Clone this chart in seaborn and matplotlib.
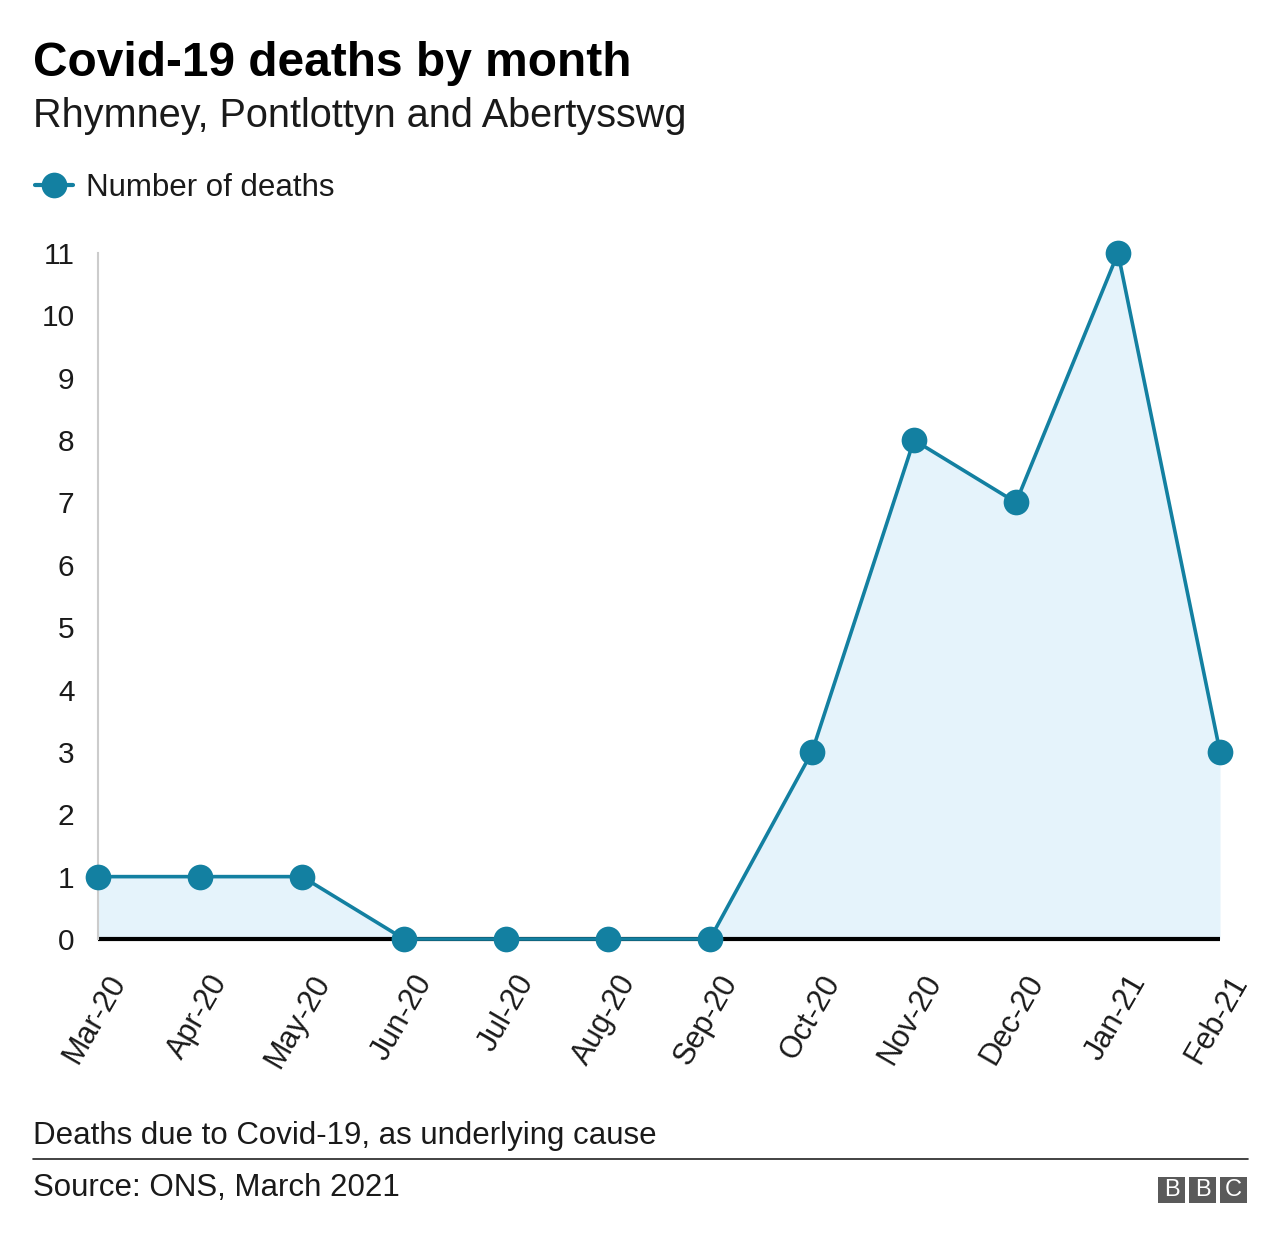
import matplotlib
matplotlib.use("Agg")
import matplotlib.pyplot as plt
import matplotlib.transforms as mtrans
import seaborn as sns
import pandas as pd
from matplotlib.lines import Line2D
from matplotlib.patches import Rectangle

months = ["Mar-20", "Apr-20", "May-20", "Jun-20", "Jul-20", "Aug-20",
          "Sep-20", "Oct-20", "Nov-20", "Dec-20", "Jan-21", "Feb-21"]
deaths = [1, 1, 1, 0, 0, 0, 0, 3, 8, 7, 11, 3]
yticks = list(range(0, 12))

sns.set_theme(style="white")
plt.rcParams['font.family'] = ['Liberation Sans', 'DejaVu Sans']

LINE = "#1380A1"
FILL = "#E5F3FB"

df = pd.DataFrame({"pos": range(len(months)), "month": months, "deaths": deaths})

fig = plt.figure(figsize=(12.8, 12.46), dpi=100)
ax = fig.add_axes([98/1280, 307/1246, (1220-98)/1280, (939-253)/1246])

ax.fill_between(df["pos"], df["deaths"], 0, color=FILL, lw=0, zorder=1)
sns.lineplot(data=df, x="pos", y="deaths", ax=ax, color=LINE, lw=2.6,
             marker="o", markersize=18.5, markeredgewidth=0, zorder=3,
             clip_on=False)
for l in ax.lines:
    l.set_clip_on(False)

ax.set_xlim(0, 11)
ax.set_ylim(0, 11)
ax.set_xticks(df["pos"])
ax.set_xticklabels(months, rotation=60, ha="right", rotation_mode="anchor",
                   fontsize=22, color="#1a1a1a")
ax.set_yticks(yticks)
ax.set_yticklabels([str(t) for t in yticks], fontsize=21.5, color="#1a1a1a")
ax.tick_params(axis="x", length=0, pad=22)
ax.tick_params(axis="y", length=0, pad=17)
off = mtrans.ScaledTranslation(8/100, 0, fig.dpi_scale_trans)
for lab in ax.get_xticklabels():
    lab.set_transform(lab.get_transform() + off)
ax.set_xlabel("")
ax.set_ylabel("")
for s in ["top", "right"]:
    ax.spines[s].set_visible(False)
ax.spines["left"].set_color("#cccccc")
ax.spines["left"].set_linewidth(1.5)
ax.spines["bottom"].set_color("#000000")
ax.spines["bottom"].set_linewidth(3)
ax.spines["bottom"].set_capstyle("butt")
ax.spines["bottom"].set_zorder(2)
ax.grid(False)
ax.set_facecolor("white")

fig.text(33/1280, 1 - 63/1246, "Covid-19 deaths by month", fontsize=34.5,
         fontweight="bold", va="center", ha="left", color="#000000")
fig.text(33/1280, 1 - 116/1246, "Rhymney, Pontlottyn and Abertysswg", fontsize=28.5,
         va="center", ha="left", color="#1a1a1a")

h = Line2D([0], [0], color=LINE, lw=3, marker="o", markersize=18.5, markeredgewidth=0)
fig.legend([h], ["Number of deaths"], loc="center left",
           bbox_to_anchor=(7/1280, 1 - 188/1246), frameon=False, fontsize=22.5,
           handlelength=1.2, handletextpad=0.42, labelcolor="#1a1a1a")

fig.text(33/1280, 1 - 1136/1246, "Deaths due to Covid-19, as underlying cause",
         fontsize=22.5, va="center", ha="left", color="#1a1a1a")
fig.add_artist(Line2D([33/1280, 1248/1280], [1 - 1159/1246, 1 - 1159/1246],
                      color="#222222", lw=1.2, transform=fig.transFigure))
fig.text(33/1280, 1 - 1188/1246, "Source: ONS, March 2021",
         fontsize=22.5, va="center", ha="left", color="#1a1a1a")

# BBC logo
for i, ch in enumerate("BBC"):
    x0 = (1158 + i * 31) / 1280
    fig.add_artist(Rectangle((x0, 1 - 1203/1246), 27/1280, 26/1246,
                             transform=fig.transFigure, color="#5a5a5a", lw=0))
    fig.text(x0 + 13.5/1280, 1 - 1190.5/1246, ch, fontsize=17,
             color="white", ha="center", va="center")

fig.savefig("out.png", dpi=100, facecolor="white")
